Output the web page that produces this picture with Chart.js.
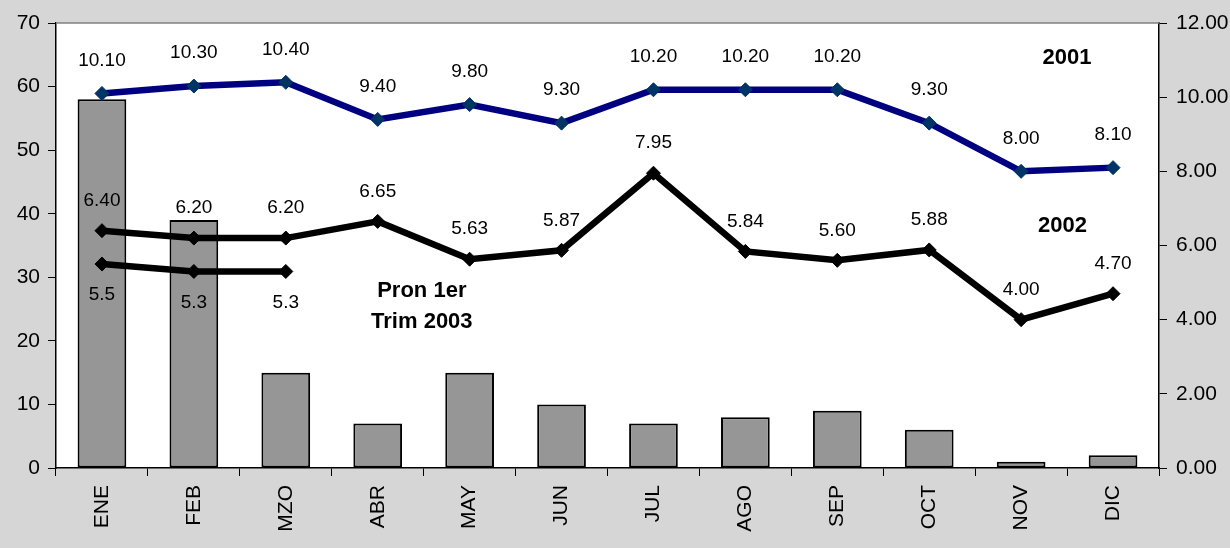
<!DOCTYPE html>
<html>
<head>
<meta charset="utf-8">
<script src="https://cdn.jsdelivr.net/npm/chart.js@4/dist/chart.umd.min.js"></script>
<style>
  html, body { margin: 0; padding: 0; background: #d6d6d6; }
  #wrap { width: 1230px; height: 548px; }
</style>
</head>
<body>
<div id="wrap"><canvas id="grafico" width="1230" height="548"></canvas></div>
<script>
// Datos del gráfico
const meses = ['ENE', 'FEB', 'MZO', 'ABR', 'MAY', 'JUN', 'JUL', 'AGO', 'SEP', 'OCT', 'NOV', 'DIC'];
const barras = [58, 39, 15, 7, 15, 10, 7, 8, 9, 6, 1, 2];
const serie2001 = [10.10, 10.30, 10.40, 9.40, 9.80, 9.30, 10.20, 10.20, 10.20, 9.30, 8.00, 8.10];
const serie2002 = [6.40, 6.20, 6.20, 6.65, 5.63, 5.87, 7.95, 5.84, 5.60, 5.88, 4.00, 4.70];
const pron2003 = [5.5, 5.3, 5.3, null, null, null, null, null, null, null, null, null];
const ticksIzq = [0, 10, 20, 30, 40, 50, 60, 70];
const ticksDer = [0, 2, 4, 6, 8, 10, 12];

const fuente = '"Liberation Sans", Arial, sans-serif';

// Textos sueltos dentro del área (índice de mes, valor eje derecho)
const notas = [
  { lineas: ['2001'], x: 10.5, y: 11.05 },
  { lineas: ['2002'], x: 10.45, y: 6.52 },
  { lineas: ['Pron 1er', 'Trim 2003'], x: 3.48, y: 4.77 }
];

// Fondo blanco del área y borde superior
const fondoArea = {
  id: 'fondoArea',
  beforeDraw(chart) {
    const { ctx, chartArea: a } = chart;
    ctx.save();
    ctx.fillStyle = '#ffffff';
    ctx.fillRect(a.left, a.top, a.right - a.left, a.bottom - a.top);
    ctx.restore();
  },
  afterDraw(chart) {
    const { ctx, chartArea: a } = chart;
    ctx.save();
    ctx.strokeStyle = '#808080';
    ctx.lineWidth = 1.5;
    ctx.beginPath();
    ctx.moveTo(a.left, a.top);
    ctx.lineTo(a.right, a.top);
    ctx.stroke();
    ctx.restore();
  }
};

// Etiquetas de valores en las líneas
const etiquetas = {
  id: 'etiquetas',
  afterDatasetsDraw(chart) {
    const ctx = chart.ctx;
    ctx.save();
    ctx.font = '19px ' + fuente;
    ctx.fillStyle = '#000';
    ctx.textAlign = 'center';
    ctx.textBaseline = 'middle';
    chart.data.datasets.forEach((ds, i) => {
      if (ds.type !== 'line') return;
      const meta = chart.getDatasetMeta(i);
      meta.data.forEach((p, j) => {
        const v = ds.data[j];
        if (v === null || v === undefined) return;
        ctx.fillText(v.toFixed(ds.decimales), p.x, p.y + ds.desplaz);
      });
    });
    ctx.restore();
  },
  afterDraw(chart) {
    const ctx = chart.ctx;
    const sx = chart.scales.x, sy = chart.scales.y1;
    ctx.save();
    ctx.font = 'bold 22px ' + fuente;
    ctx.fillStyle = '#000';
    ctx.textAlign = 'center';
    ctx.textBaseline = 'middle';
    notas.forEach(n => {
      const x = sx.getPixelForValue(n.x);
      const y = sy.getPixelForValue(n.y);
      n.lineas.forEach((t, k) => ctx.fillText(t, x, y + k * 31));
    });
    ctx.restore();
  }
};

const ctx = document.getElementById('grafico').getContext('2d');

new Chart(ctx, {
  data: {
    labels: meses,
    datasets: [
      {
        type: 'line',
        label: '2001',
        data: serie2001,
        yAxisID: 'y1',
        borderColor: '#000080',
        borderWidth: 6.5,
        pointStyle: 'rectRot',
        pointRadius: 7,
        pointBackgroundColor: '#003366',
        pointBorderColor: '#003366',
        pointBorderWidth: 1,
        tension: 0,
        order: 1,
        decimales: 2,
        desplaz: -33
      },
      {
        type: 'line',
        label: '2002',
        data: serie2002,
        yAxisID: 'y1',
        borderColor: '#000000',
        borderWidth: 6.5,
        pointStyle: 'rectRot',
        pointRadius: 7,
        pointBackgroundColor: '#000000',
        pointBorderColor: '#000000',
        pointBorderWidth: 1,
        tension: 0,
        order: 1,
        decimales: 2,
        desplaz: -30
      },
      {
        type: 'line',
        label: 'Pron 1er Trim 2003',
        data: pron2003,
        yAxisID: 'y1',
        borderColor: '#000000',
        borderWidth: 6.5,
        pointStyle: 'rectRot',
        pointRadius: 7,
        pointBackgroundColor: '#000000',
        pointBorderColor: '#000000',
        pointBorderWidth: 1,
        tension: 0,
        spanGaps: false,
        order: 1,
        decimales: 1,
        desplaz: 31
      },
      {
        type: 'bar',
        label: 'Barras',
        data: barras,
        yAxisID: 'y',
        backgroundColor: '#969696',
        borderColor: '#000000',
        borderWidth: 2,
        borderSkipped: false,
        categoryPercentage: 1,
        barPercentage: 0.53,
        order: 3
      }
    ]
  },
  options: {
    responsive: false,
    animation: false,
    layout: { padding: { top: 23, left: 0, right: 0, bottom: 0 } },
    plugins: {
      legend: { display: false },
      tooltip: { enabled: false },
      title: { display: false }
    },
    scales: {
      x: {
        offset: true,
        grid: {
          offset: true,
          drawOnChartArea: false,
          drawTicks: true,
          tickLength: 8,
          color: '#000',
          lineWidth: 1
        },
        border: { display: true, color: '#000', width: 1.5 },
        ticks: {
          color: '#000',
          font: { family: fuente, size: 21 },
          minRotation: 90,
          maxRotation: 90,
          padding: 9,
          autoSkip: false
        },
        afterFit(scale) { scale.height = 80; }
      },
      y: {
        position: 'left',
        min: 0,
        max: 70,
        afterBuildTicks(scale) { scale.ticks = ticksIzq.map(v => ({ value: v })); },
        grid: { drawOnChartArea: false, tickLength: 8, color: '#000' },
        border: { display: true, color: '#000', width: 1.5 },
        ticks: {
          color: '#000',
          font: { family: fuente, size: 21 },
          padding: 8
        },
        afterFit(scale) { scale.width = 56; }
      },
      y1: {
        position: 'right',
        min: 0,
        max: 12,
        afterBuildTicks(scale) { scale.ticks = ticksDer.map(v => ({ value: v })); },
        grid: { drawOnChartArea: false, tickLength: 8, color: '#000' },
        border: { display: true, color: '#000', width: 1.5 },
        ticks: {
          color: '#000',
          font: { family: fuente, size: 21 },
          padding: 9,
          callback: v => Number(v).toFixed(2)
        },
        afterFit(scale) { scale.width = 71; }
      }
    }
  },
  plugins: [fondoArea, etiquetas]
});
</script>
</body>
</html>
